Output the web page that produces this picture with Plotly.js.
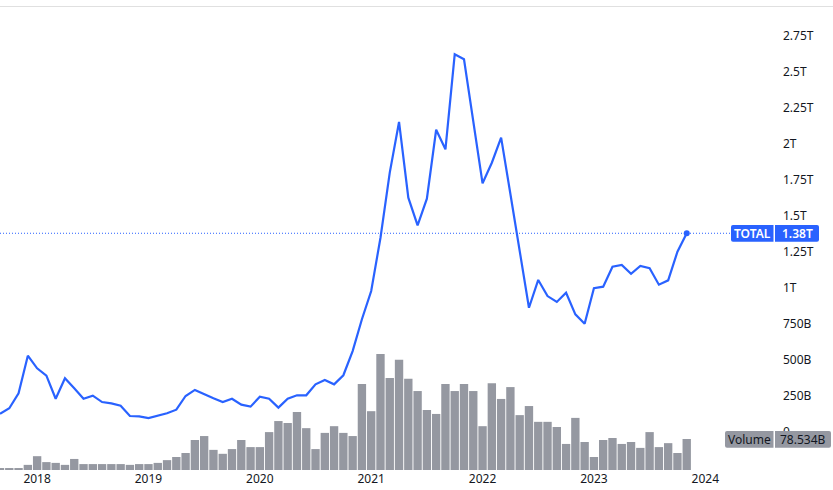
<!DOCTYPE html>
<html>
<head>
<meta charset="utf-8">
<script src="https://cdn.plot.ly/plotly-3.0.1.min.js"></script>
<style>html,body{margin:0;padding:0;background:#fff}#c{width:833px;height:490px}</style>
</head>
<body>
<div id="c"></div>
<script>
const months = [
 '2017-09','2017-10','2017-11','2017-12',
 '2018-01','2018-02','2018-03','2018-04','2018-05','2018-06','2018-07','2018-08','2018-09','2018-10','2018-11','2018-12',
 '2019-01','2019-02','2019-03','2019-04','2019-05','2019-06','2019-07','2019-08','2019-09','2019-10','2019-11','2019-12',
 '2020-01','2020-02','2020-03','2020-04','2020-05','2020-06','2020-07','2020-08','2020-09','2020-10','2020-11','2020-12',
 '2021-01','2021-02','2021-03','2021-04','2021-05','2021-06','2021-07','2021-08','2021-09','2021-10','2021-11','2021-12',
 '2022-01','2022-02','2022-03','2022-04','2022-05','2022-06','2022-07','2022-08','2022-09','2022-10','2022-11','2022-12',
 '2023-01','2023-02','2023-03','2023-04','2023-05','2023-06','2023-07','2023-08','2023-09','2023-10','2023-11'];
// Total market cap, billions USD
const total = [127,165,269,530,
 442,391,231,373,303,231,252,208,199,183,111,109,
 97,113,130,155,250,292,262,234,208,231,190,176,
 245,231,169,231,255,255,331,361,331,394,562,783,
 979,1349,1801,2153,1627,1435,1620,2099,1963,2623,2588,2171,
 1727,1870,2044,1653,1257,863,1056,944,903,967,817,752,
 998,1009,1148,1160,1099,1153,1137,1023,1053,1252,1380];
// Volume, billions USD
const volume = [5,5,5,13,
 35,20,18,13,28,15,15,15,15,15,13,15,
 15,18,25,33,43,76,86,51,41,53,76,58,
 58,96,124,119,147,106,53,94,111,94,86,218,
 149,294,233,279,231,200,152,142,218,200,218,200,
 111,220,180,210,139,162,122,122,109,66,132,71,
 33,76,81,66,71,56,96,58,68,43,78.534];
const yearTicks = [4,16,28,40,52,64,76];
const yearLabels = ['2018','2019','2020','2021','2022','2023','2024'];
const priceTicks = [0,250,500,750,1000,1250,1500,1750,2000,2250,2500,2750];
const priceLabels = ['0','250B','500B','750B','1T','1.25T','1.5T','1.75T','2T','2.25T','2.5T','2.75T'];
const lastTotalLabel = '1.38T';
const lastVolumeLabel = '78.534B';

const W = 833, PH = 470;
const FONT = '"Noto Sans", sans-serif';
const INK = '#131722', BLUE = '#2962ff', GREY = '#9598a1';
const idx = months.map((_, i) => i);
const px = x => x / W, py = y => 1 - y / PH;

function badge(x0, x1, y0, y1, color, roundLeft, roundRight) {
  const r = 2, a = x => px(x), b = y => py(y);
  const rl = roundLeft ? r : 0, rr = roundRight ? r : 0;
  const path = `M ${a(x0 + rl)} ${b(y0)} L ${a(x1 - rr)} ${b(y0)} Q ${a(x1)} ${b(y0)} ${a(x1)} ${b(y0 + rr)} ` +
    `L ${a(x1)} ${b(y1 - rr)} Q ${a(x1)} ${b(y1)} ${a(x1 - rr)} ${b(y1)} L ${a(x0 + rl)} ${b(y1)} ` +
    `Q ${a(x0)} ${b(y1)} ${a(x0)} ${b(y1 - rl)} L ${a(x0)} ${b(y0 + rl)} Q ${a(x0)} ${b(y0)} ${a(x0 + rl)} ${b(y0)} Z`;
  return {type: 'path', xref: 'paper', yref: 'paper', path, fillcolor: color, line: {width: 0}, layer: 'above'};
}
function label(text, x0, x1, y0, y1, color, weight) {
  return {xref: 'paper', yref: 'paper', x: px((x0 + x1) / 2), y: py((y0 + y1) / 2), text, showarrow: false,
    xanchor: 'center', yanchor: 'middle', font: {family: FONT, size: 12, color, weight: weight || 400}, borderpad: 0};
}

const traces = [
  {type: 'bar', x: idx, y: volume, yaxis: 'y', marker: {color: GREY, line: {width: 0}}, hoverinfo: 'skip'},
  {type: 'scatter', mode: 'lines', x: idx, y: total, yaxis: 'y2', line: {color: BLUE, width: 2.2}, hoverinfo: 'skip'},
  {type: 'scatter', mode: 'markers', x: [idx[idx.length - 1]], y: [total[total.length - 1]], yaxis: 'y2',
   marker: {color: BLUE, size: 6}, hoverinfo: 'skip'}
];

const layout = {
  width: W, height: 490,
  margin: {l: 0, r: 0, t: 0, b: 20, pad: 0},
  paper_bgcolor: '#fff', plot_bgcolor: '#fff',
  showlegend: false, bargap: 0.1,
  xaxis: {range: [0, W / 9.28], tickmode: 'array', tickvals: yearTicks, ticktext: yearLabels,
    showgrid: false, zeroline: false, showline: false, ticks: '', tickangle: 0,
    tickfont: {family: FONT, size: 12, color: INK}},
  yaxis: {range: [0, 1190.5], visible: false, fixedrange: true},
  yaxis2: {overlaying: 'y', side: 'right', anchor: 'free', position: 782 / W, range: [-263.9, 3000],
    tickmode: 'array', tickvals: priceTicks, ticktext: priceLabels,
    showgrid: false, zeroline: false, showline: false, ticks: '',
    tickfont: {family: FONT, size: 12, color: INK}},
  shapes: [
    {type: 'line', xref: 'paper', yref: 'paper', x0: 0, x1: 1, y0: py(6.5), y1: py(6.5), line: {color: '#e0e0e0', width: 1}},
    {type: 'line', xref: 'paper', yref: 'y2', x0: 0, x1: px(731), y0: total[total.length - 1], y1: total[total.length - 1],
      line: {color: BLUE, width: 1, dash: '1px,2px'}},
    badge(731, 773.5, 225, 241.7, BLUE, true, false),
    badge(775, 819, 225, 241.7, BLUE, false, true),
    badge(725, 773.5, 431, 447.7, GREY, true, false),
    badge(775, 831, 431, 447.7, GREY, false, true)
  ],
  annotations: [
    label('TOTAL', 731, 773.5, 225, 241.7, '#fff', 600),
    label(lastTotalLabel, 775, 819, 225, 241.7, '#fff', 600),
    label('Volume', 725, 773.5, 431, 447.7, INK),
    label(lastVolumeLabel, 775, 831, 431, 447.7, INK)
  ]
};
Plotly.newPlot('c', traces, layout, {displayModeBar: false, staticPlot: true});
</script>
</body>
</html>
